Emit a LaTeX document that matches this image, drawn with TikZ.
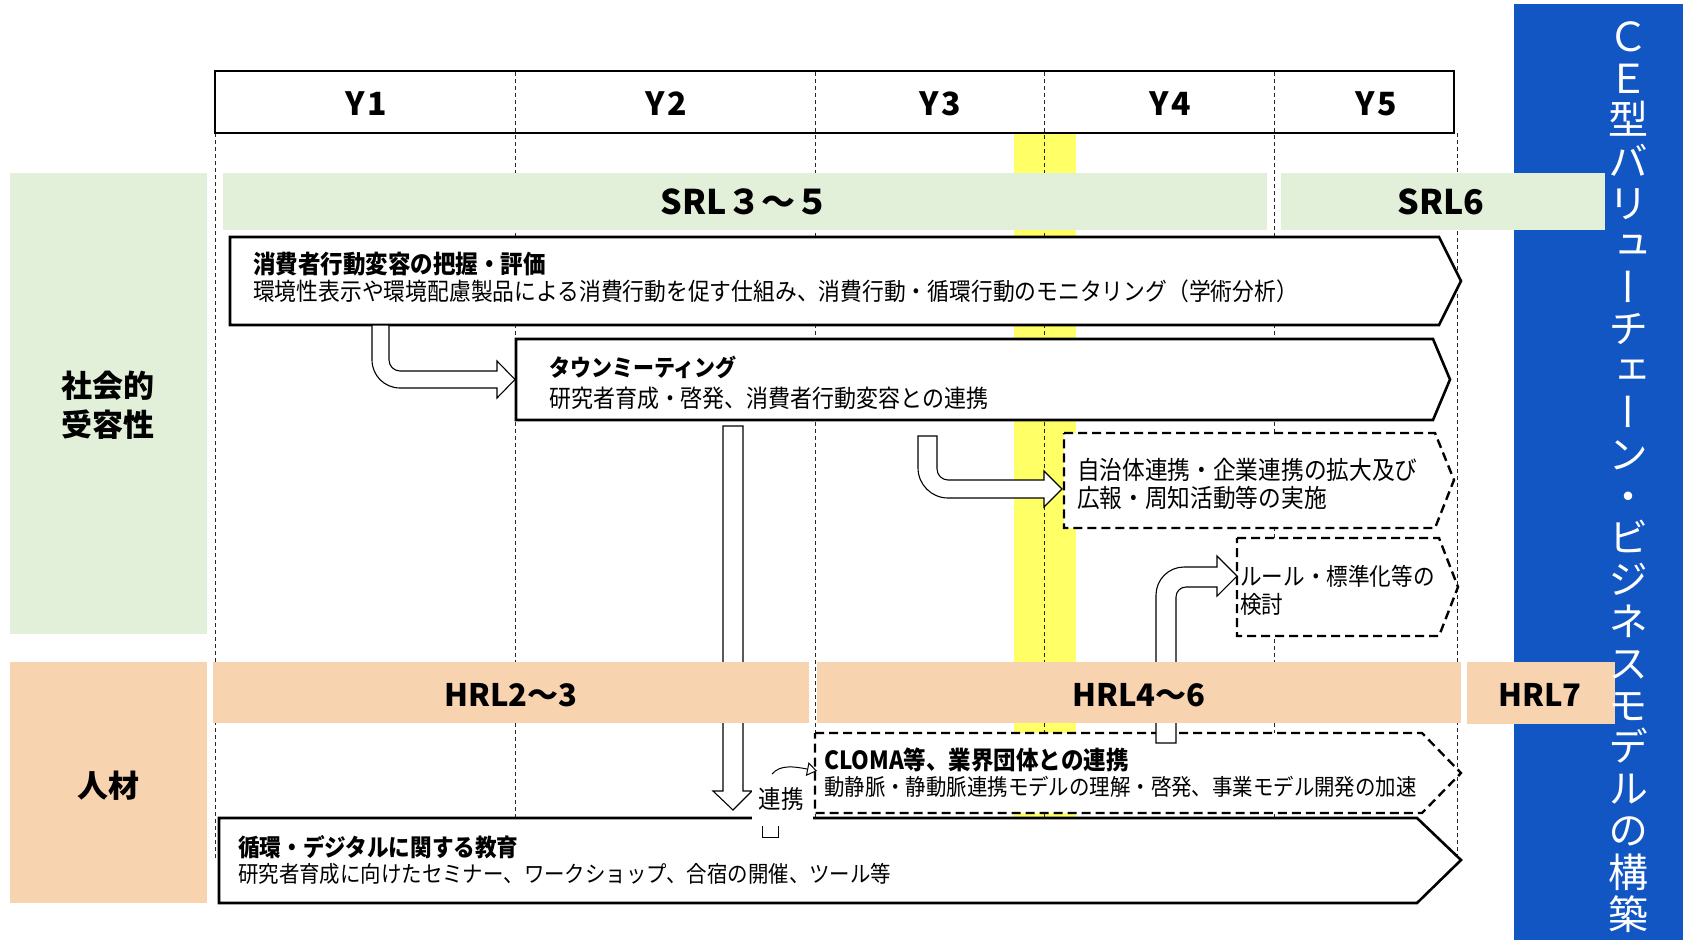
\documentclass[tikz,border=0pt]{standalone}
\usepackage{fontspec}
\setmainfont{Noto Sans CJK JP}
\newfontfamily\jp[FakeStretch=0.9]{Noto Sans CJK JP}
\newfontfamily\vfont[RawFeature=+vert]{Noto Sans CJK JP}
\usetikzlibrary{arrows.meta}
\definecolor{lgreen}{HTML}{E2F0D9}
\definecolor{lorange}{HTML}{F8D3B0}
\definecolor{hyellow}{HTML}{FFFF66}
\definecolor{cblue}{HTML}{1256C4}
\newcommand{\fsz}[1]{\fontsize{#1}{#1}\selectfont}
\tikzset{
  colline/.style={dash pattern=on 4pt off 3pt, line width=0.9pt, black!85},
  solidbox/.style={draw=black, line width=2.6pt, fill=white, line join=miter},
  dashbox/.style={draw=black, line width=2.4pt, fill=white, dash pattern=on 9pt off 5pt},
  blockarrow/.style={draw=black, line width=1.1pt, fill=white, line join=miter},
  lbl/.style={anchor=base, inner sep=0pt},
  ttl/.style={anchor=base west, inner sep=0pt},
}
\begin{document}
\begin{tikzpicture}[x=1pt,y=-1pt]
\useasboundingbox (0,0) rectangle (1683,940);
\fill[white] (0,0) rectangle (1683,940);
% highlight band
\fill[hyellow] (1014,133) rectangle (1076,818);
% column lines
\foreach \x in {515,815,1044,1274} \draw[colline] (\x,72) -- (\x,818);
\draw[colline] (215,133) -- (215,858);
\draw[colline] (1457,133) -- (1457,858);
% header
\draw[line width=2.5pt] (215,71) rectangle (1454,133);
\node[lbl, font=\bfseries\fsz{32}] (y1) at (366,115) {Y\kern3pt1};
\node[lbl, font=\bfseries\fsz{32}] (y2) at (666,115) {Y\kern3pt2};
\node[lbl, font=\bfseries\fsz{32}] (y3) at (940,115) {Y\kern3pt3};
\node[lbl, font=\bfseries\fsz{32}] (y4) at (1170,115) {Y\kern3pt4};
\node[lbl, font=\bfseries\fsz{32}] (y5) at (1376,115) {Y\kern3pt5};
% left categories
\fill[lgreen] (10,173) rectangle (207,634);
\fill[lorange] (10,662) rectangle (207,903);
\node[lbl, font=\bfseries\fsz{31}] (c1a) at (108,397) {社会的};
\node[lbl, font=\bfseries\fsz{31}] (c1b) at (108,436) {受容性};
\node[lbl, font=\bfseries\fsz{31}] (c2) at (108,797) {人材};
% blue panel
\fill[cblue] (1514,4) rectangle (1683,940);
% boxes
\draw[solidbox] (230,237) -- (1439,237) -- (1461,281) -- (1439,325) -- (230,325) -- cycle;
\draw[solidbox] (516,339) -- (1433,339) -- (1450,379.5) -- (1433,420) -- (516,420) -- cycle;
\draw[dashbox] (1064,433) -- (1435,433) -- (1454,480) -- (1435,528) -- (1064,528) -- cycle;
\draw[dashbox] (1237,538) -- (1439,538) -- (1458,587) -- (1439,636) -- (1237,636) -- cycle;
\draw[dashbox] (815,733) -- (1422,733) -- (1461,773) -- (1422,813) -- (815,813) -- cycle;
\draw[solidbox] (219,818) -- (1417,818) -- (1461,860) -- (1417,903) -- (219,903) -- cycle;
% box texts
\node[ttl, font=\jp\bfseries\fsz{25}] (t1) at (253,273) {消費者行動変容の把握・評価};
\node[ttl, font=\jp\fsz{24.2}] (s1) at (253,300) {環境性表示や環境配慮製品による消費行動を促す仕組み、消費行動・循環行動のモニタリング（学術分析）};
\node[ttl, font=\jp\bfseries\fsz{23.3}] (t2) at (549,376) {タウンミーティング};
\node[ttl, font=\jp\fsz{24.4}] (s2) at (549,407) {研究者育成・啓発、消費者行動変容との連携};
\node[ttl, font=\jp\fsz{25.2}] (s3a) at (1077,479.5) {自治体連携・企業連携の拡大及び};
\node[ttl, font=\jp\fsz{25.2}] (s3b) at (1077,507.5) {広報・周知活動等の実施};
\node[ttl, font=\jp\fsz{24}] (s4a) at (1240,585) {ルール・標準化等の};
\node[ttl, font=\jp\fsz{24}] (s4b) at (1240,613) {検討};
\node[ttl, font=\jp\bfseries\fsz{25}] (t5) at (824,769.5) {CLOMA等、業界団体との連携};
\node[ttl, font=\jp\fsz{22.7}] (s5) at (824,795.6) {動静脈・静動脈連携モデルの理解・啓発、事業モデル開発の加速};
\node[ttl, font=\jp\bfseries\fsz{24}] (t6) at (238,856) {循環・デジタルに関する教育};
\node[ttl, font=\jp\fsz{22.7}] (s6) at (238,882.6) {研究者育成に向けたセミナー、ワークショップ、合宿の開催、ツール等};
% block arrows
\draw[blockarrow] (372,325) -- (372,360) .. controls (372,375.5) and (384.5,388) .. (400,388) -- (497,388) -- (497,398) -- (515,379.5) -- (497,361) -- (497,371) -- (400,371) .. controls (394,371) and (389,366) .. (389,360) -- (389,325) -- cycle;
\draw[blockarrow] (918,436) -- (918,468) .. controls (918,484.5) and (931.5,498) .. (948,498) -- (1044,498) -- (1044,507) -- (1062,489) -- (1044,471) -- (1044,480) -- (948,480) .. controls (942,480) and (937,475) .. (937,469) -- (937,436) -- cycle;
\draw[blockarrow] (1156,743) -- (1156,595) .. controls (1156,579.6) and (1168.6,567) .. (1184,567) -- (1217,567) -- (1217,556) -- (1237,576) -- (1217,596) -- (1217,587) -- (1186,587) .. controls (1180.5,587) and (1176,591.5) .. (1176,597) -- (1176,743) -- cycle;
\draw[blockarrow] (723,426) -- (723,791) -- (713,791) -- (733,810) -- (752,791) -- (743,791) -- (743,426) -- cycle;
% level bands
\fill[lgreen] (223,173) rectangle (1267,230);
\fill[lgreen] (1281,173) rectangle (1605,230);
\fill[lorange] (213,662) rectangle (809,723);
\fill[lorange] (817,662) rectangle (1461,723);
\fill[lorange] (1467,662) rectangle (1615,724);
\node[lbl, font=\bfseries\fsz{34}] (srl1) at (745,214.5) {SRL３～５};
\node[lbl, font=\bfseries\fsz{34}] (srl2) at (1441,214.5) {SRL6};
\node[lbl, font=\bfseries\fsz{31}] (hrl1) at (511,706) {HRL2～3};
\node[lbl, font=\bfseries\fsz{31}] (hrl2) at (1139,706) {HRL4～6};
\node[lbl, font=\bfseries\fsz{31}] (hrl3) at (1540,706) {HRL7};
% link label
\fill[white] (752,778) rectangle (813,822);
\node[lbl, font=\jp\fsz{25}] (link) at (781,808) {連携};
\coordinate (ls) at (772,774);
\coordinate (le) at (817,771);
\draw[line width=1pt, -{Triangle[open,length=10pt,width=14pt]}] (ls) .. controls (780,765) and (792,766) .. (le);
\draw[line width=1pt] (762,826) -- (762,837) -- (778,837) -- (778,826);
% vertical title
\foreach \c [count=\i from 0] in {Ｃ,Ｅ,型,バ,リ,ュ,ー,チ,ェ,ー,ン,・,ビ,ジ,ネ,ス,モ,デ,ル,の,構,築}
  \node[lbl, text=white, font=\vfont\fsz{40}] (v\i) at (1628,{36+41.8*\i+15.2}) {\c};
\end{tikzpicture}
\end{document}
